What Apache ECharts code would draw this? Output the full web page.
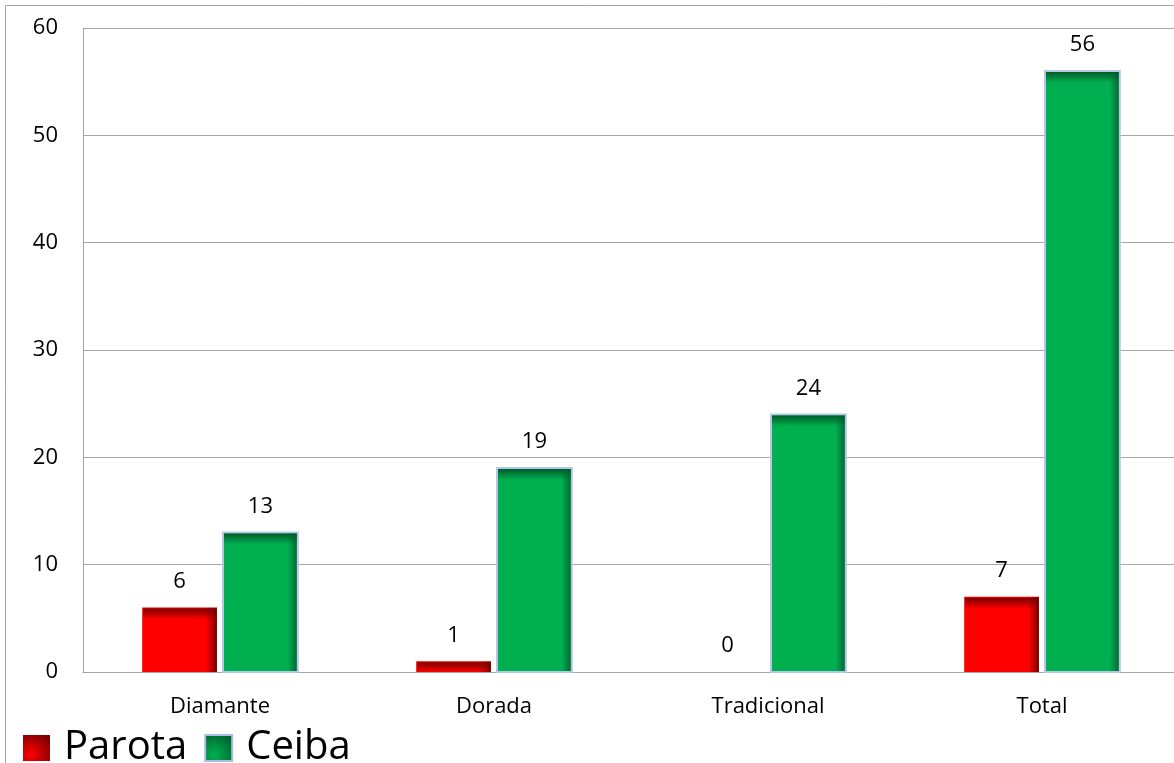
<!DOCTYPE html>
<html>
<head>
<meta charset="utf-8">
<script src="https://cdn.jsdelivr.net/npm/echarts@6/dist/echarts.min.js"></script>
<style>
html,body{margin:0;padding:0;background:#fff;}
#chart{width:1174px;height:763px;}
</style>
</head>
<body>
<div id="chart"></div>
<script>
const categories = ['Diamante', 'Dorada', 'Tradicional', 'Total'];
const parota = [6, 1, 0, 7];
const ceiba = [13, 19, 24, 56];
const yTicks = [0, 10, 20, 30, 40, 50, 60];

const FONT = '"Open Sans", "Noto Sans", sans-serif';

const styles = [
  { main: '#ff0000', dark: '#7a0000', border: null },
  { main: '#00b050', dark: '#005c2a', border: '#b4c7e7' }
];

function makeRender(idx) {
  const st = styles[idx];
  return function (params, api) {
    const cat = api.value(0), v = api.value(1);
    const base = api.coord([cat, 0]);
    const top = api.coord([cat, v]);
    const band = api.size([1, 0])[0];
    const bw = band * 0.273, gap = band * 0.022;
    const x = idx === 0 ? base[0] - gap / 2 - bw : base[0] + gap / 2;
    const h = base[1] - top[1];
    const children = [];
    if (h > 0) {
      const edge = 11;
      const fx = Math.min(0.5, edge / bw);
      children.push({
        type: 'rect',
        shape: { x: x, y: top[1], width: bw, height: h },
        style: {
          fill: new echarts.graphic.LinearGradient(0, 0, 1, 0, [
            { offset: 0, color: st.main },
            { offset: 1 - fx, color: st.main },
            { offset: 1, color: st.dark }
          ]),
          stroke: st.border || null,
          lineWidth: st.border ? 2 : 0
        }
      });
      children.push({
        type: 'rect',
        shape: { x: x + 1, y: top[1] + 1, width: bw - 2, height: Math.min(h - 1, edge) },
        style: {
          fill: new echarts.graphic.LinearGradient(0, 0, 0, 1, [
            { offset: 0, color: st.dark },
            { offset: 1, color: echarts.color.modifyAlpha(st.dark, 0) }
          ])
        }
      });
    }
    children.push({
      type: 'text',
      style: {
        text: String(v),
        x: x + bw / 2,
        y: top[1] - 15,
        align: 'center',
        verticalAlign: 'bottom',
        fontSize: 22,
        fontFamily: FONT,
        fill: '#000'
      }
    });
    return { type: 'group', children: children };
  };
}

const chart = echarts.init(document.getElementById('chart'));
chart.setOption({
  animation: false,
  backgroundColor: '#fff',
  graphic: [{
    type: 'rect',
    shape: { x: 5.5, y: 5.5, width: 1300, height: 900 },
    style: { fill: null, stroke: '#a6a6a6', lineWidth: 1 },
    z: 100
  }],
  grid: { left: 83, top: 28, width: 1096, bottom: 91, outerBoundsMode: 'none', containLabel: false },
  legend: {
    left: 18, top: 723,
    itemWidth: 27, itemHeight: 26,
    itemGap: 17,
    textStyle: { fontSize: 40, fontFamily: FONT, color: '#000', padding: [0, 0, 0, 9] },
    data: [
      { name: 'Parota', icon: 'rect', itemStyle: {
        color: new echarts.graphic.RadialGradient(0.3, 0.75, 0.9, [
          { offset: 0, color: '#ff0000' }, { offset: 1, color: '#7a0000' }]) } },
      { name: 'Ceiba', icon: 'rect', itemStyle: {
        color: new echarts.graphic.RadialGradient(0.35, 0.75, 0.9, [
          { offset: 0, color: '#00b050' }, { offset: 1, color: '#005c2a' }]),
        borderColor: '#a9bde8', borderWidth: 2 } }
    ]
  },
  xAxis: {
    type: 'category',
    data: categories,
    axisLine: { show: true, lineStyle: { color: '#a6a6a6', width: 1 } },
    axisTick: { show: false },
    axisLabel: { fontSize: 22, fontFamily: FONT, color: '#000', margin: 24 }
  },
  yAxis: {
    type: 'value',
    min: yTicks[0], max: yTicks[yTicks.length - 1], interval: 10,
    axisLine: { show: true, lineStyle: { color: '#a6a6a6', width: 1 } },
    axisTick: { show: false },
    splitLine: { show: true, lineStyle: { color: '#a6a6a6', width: 1 } },
    axisLabel: { fontSize: 22, fontFamily: FONT, color: '#000', margin: 25 }
  },
  series: [
    {
      name: 'Parota', type: 'custom',
      itemStyle: { color: '#ff0000' },
      renderItem: makeRender(0),
      encode: { x: 0, y: 1 },
      data: parota.map((v, i) => [i, v])
    },
    {
      name: 'Ceiba', type: 'custom',
      itemStyle: { color: '#00b050' },
      renderItem: makeRender(1),
      encode: { x: 0, y: 1 },
      data: ceiba.map((v, i) => [i, v])
    }
  ]
});
</script>
</body>
</html>
